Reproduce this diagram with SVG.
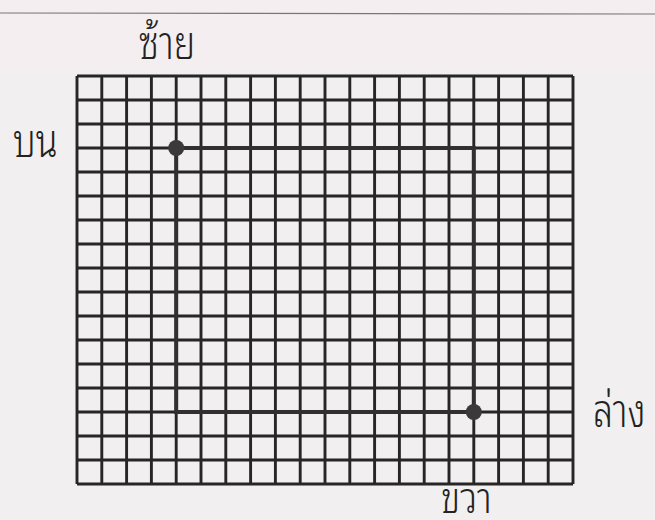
<svg xmlns="http://www.w3.org/2000/svg" width="655" height="520" viewBox="0 0 655 520">
<style>
.grid{fill:none;stroke:#262626;stroke-width:2.9}
.rect{fill:none;stroke:#303030;stroke-width:4;stroke-linejoin:miter}
.dot{fill:#3a3a3a}
.lbl{font-family:"Noto Sans Thai Looped","Noto Sans Thai","Noto Sans","DejaVu Sans",sans-serif;font-size:36px;font-weight:300;fill:#222}
</style>
<rect width="655" height="520" fill="#f1efef"/>
<rect width="655" height="70" fill="#f5eef0"/>
<line x1="0" y1="13" x2="655" y2="14" stroke="#777" stroke-width="1.2"/>
<g id="grid">
<path class="grid" d="M77 76V484M101.8 76V484M126.6 76V484M151.4 76V484M176.2 76V484M201 76V484M225.8 76V484M250.6 76V484M275.4 76V484M300.2 76V484M325 76V484M349.8 76V484M374.6 76V484M399.4 76V484M424.2 76V484M449 76V484M473.8 76V484M498.6 76V484M523.4 76V484M548.2 76V484M573 76V484"/>
<path class="grid" d="M77 76H573M77 100H573M77 124H573M77 148H573M77 172H573M77 196H573M77 220H573M77 244H573M77 268H573M77 292H573M77 316H573M77 340H573M77 364H573M77 388H573M77 412H573M77 436H573M77 460H573M77 484H573"/>
</g>
<g id="connectors">
<path class="rect" d="M176.2 148H473.8V412H176.2Z"/>
</g>
<g id="node-top-left"><circle class="dot" cx="176.2" cy="148" r="8"/></g>
<g id="node-bottom-right"><circle class="dot" cx="473.8" cy="412" r="8"/></g>
<g id="label-left"><text class="lbl" transform="translate(139 59) scale(1 1.3)">ซ้าย</text></g>
<g id="label-top"><text class="lbl" transform="translate(13 157) scale(1 1.3)">บน</text></g>
<g id="label-bottom"><text class="lbl" transform="translate(593 427) scale(1 1.3)">ล่าง</text></g>
<g id="label-right"><text class="lbl" transform="translate(441 513) scale(1 1.2)">ขวา</text></g>
</svg>
